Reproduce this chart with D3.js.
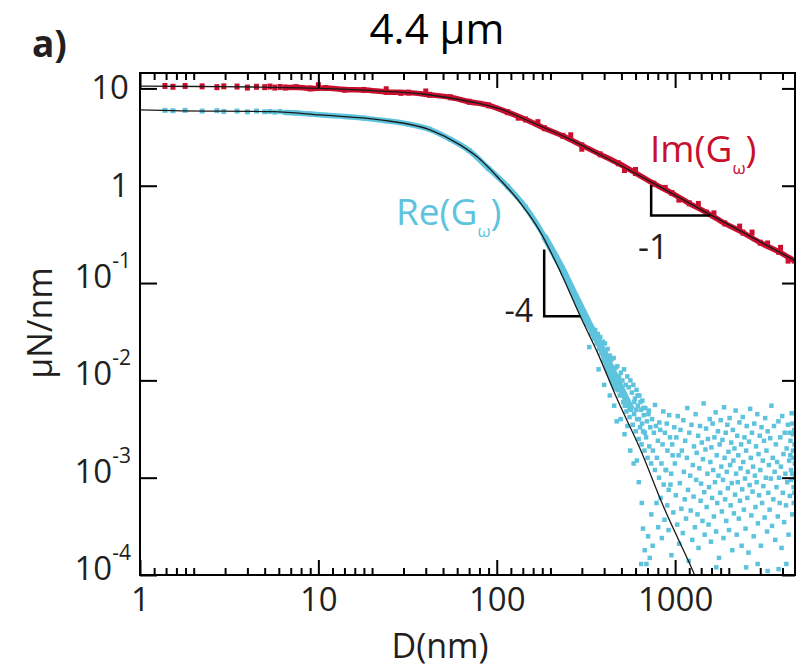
<!DOCTYPE html>
<html>
<head>
<meta charset="utf-8">
<script src="https://cdn.jsdelivr.net/npm/d3@7"></script>
<style>
  body { margin: 0; background: #fff; }
  svg text { font-family: "Open Sans", "DejaVu Sans", sans-serif; fill: #231f20; }
</style>
</head>
<body>
<div id="chart"></div>
<script>
// D (nm) sample points shared by both measured series
const dataD = [1.38, 1.53, 1.79, 2.23, 2.7, 2.95, 3.5, 4.0, 4.5, 5.0, 5.35, 5.7, 6.1, 6.5, 7.5, 9, 11, 14, 18, 24, 32, 42, 55, 70, 90, 115, 145, 185, 235, 300, 380, 480, 600, 760, 960, 1200, 1500, 1900, 2400, 3000, 3800, 4650];
// Im(G) measured, µN/nm
const imData = [10.6, 10.4, 10.6, 10.5, 10.3, 10.5, 10.45, 10.2, 10.4, 10.3, 10.45, 10.2, 10.35, 10.2, 10.3, 10.0, 10.1, 9.7, 9.65, 9.2, 9.05, 8.6, 8.1, 7.3, 6.7, 5.7, 4.8, 3.9, 3.25, 2.6, 2.1, 1.7, 1.35, 1.05, 0.84, 0.66, 0.53, 0.41, 0.33, 0.26, 0.21, 0.17];
// Re(G) measured, up to 480 nm (beyond that see reBand / reNoise)
const reData = [5.95, 5.9, 5.95, 5.85, 5.9, 5.8, 5.85, 5.75, 5.85, 5.75, 5.8, 5.7, 5.8, 5.65, 5.6, 5.45, 5.3, 5.15, 4.95, 4.65, 4.3, 3.8, 3.0, 2.3, 1.5, 0.98, 0.6, 0.3, 0.13, 0.05, 0.022, 0.008];
// centre of the dense Re band in the steep part
const reBandD = [185, 235, 270, 300, 340, 380, 430, 480, 530, 570];
const reBandV = [0.3, 0.135, 0.08, 0.054, 0.034, 0.023, 0.0145, 0.0095, 0.0065, 0.005];

// stray Im points (vertical jitter marks)
const imJitter = [[10, 10.8], [24, 9.8], [29, 9.0], [40, 9.3], [132, 5.0], [170, 4.5], [260, 3.3], [300, 2.4], [520, 1.45], [600, 1.45], [880, 0.95], [1050, 0.72], [1350, 0.65], [1650, 0.52], [2300, 0.38], [2700, 0.33], [3300, 0.255], [3900, 0.23], [4300, 0.17]];

// Re points in the steep part, [D, value in 1e-3 µN/nm]
const reBand = [
  [250,105],[262,88],[270,75],[282,66],[292,55],
  [300,52],[305,44],[312,46],[318,38],[324,41],[335,36],[338,30],[344,34],[350,27],[356,33],[363,24],[368,30],[375,21],[380,28],[386,19],[393,25],[398,16],[404,24],[408,19],[415,15],[418,21],[425,13],[430,18],[436,12],[441,16.5],[447,11],[452,17],[458,9.5],[463,13.5],[468,8.5],[474,14],[479,8],[485,11],[489,7],[496,12],
  [500,7.5],[506,10],[511,6],[517,13],[522,5.5],[528,9],[533,4.8],[539,11],[544,6],[549,8.5],[555,4.2],[561,10],[566,5],[572,7.5],[578,3.5],[583,9],[589,4.5],[595,6.5],[601,3.0],[607,8],[612,4],[618,5.5],[624,2.5],[630,7],[636,3.3],[642,5],[648,2.2],[655,6.2],[661,3],[667,4.4],[673,1.9],[680,5.2],[687,2.6],[694,3.8],[700,1.6],[708,4.5],[716,2.1],[725,3.3],[733,1.4],[742,4],[750,1.9],[760,2.9],[770,1.2],[780,3.4],[790,1.6],[800,2.4],[812,1.0],[825,3.1],[838,1.4],[850,2.2],[862,0.85],[876,2.9],[890,1.2],[905,1.9],[920,0.75],[935,2.6],[950,1.1],[968,1.7],
  [330,22],[372,13],[400,9],[430,7],[455,5.5],[470,3.8],[495,4],[520,2.8],[540,3.4],[560,1.9],[585,1.4],[610,1.5],[625,0.9],[650,0.55],[660,0.3],[675,0.18],[690,0.13],[705,0.25],[720,0.15],[645,0.13],
  [590,6],[604,5],[615,7],[627,4],[639,6],[652,3.6],[664,5.2],[676,2.9]
];

// Re noise floor at large D, [D, value in 1e-3 µN/nm]
const reNoise = [
  [712,4.9],[735,0.42],[748,0.2],[771,5.6],[786,0.55],[803,0.31],[815,3.7],[829,0.62],[842,0.24],[858,4.8],[871,0.37],[884,1.2],[897,3.6],[903,0.52],[918,0.29],[926,4.4],[941,0.85],[953,0.16],[962,2.2],[977,0.44],[989,3.3],[996,1.4],[1008,0.66],[1015,2.6],[1027,0.33],[1034,4.3],[1046,1.7],[1052,0.21],[1063,0.88],[1071,3.1],[1083,0.48],[1090,1.9],[1104,0.27],[1112,3.9],[1118,1.15],[1131,0.6],[1138,2.4],[1150,0.38],[1163,1.6],[1170,5.2],[1181,0.75],[1192,0.14],[1200,2.9],[1214,1.05],[1222,0.46],[1235,3.5],[1247,0.23],[1256,1.35],[1268,0.64],[1275,2.1],[1290,0.31],[1302,4.5],[1311,0.95],[1320,1.8],[1334,0.42],[1345,2.7],[1352,0.19],[1366,1.25],[1378,3.4],[1389,0.58],[1397,0.87],[1410,2.3],[1423,0.36],[1431,1.55],[1444,5.8],[1456,0.71],[1463,0.26],[1478,1.95],[1490,3.2],[1501,0.5],[1517,1.1],[1526,2.5],[1539,0.33],[1548,0.8],[1562,4.0],[1575,1.45],[1588,0.22],[1596,2.05],[1611,0.62],[1623,3.6],[1634,1.2],[1648,0.4],[1660,2.6],[1672,0.9],[1686,4.7],[1697,0.28],[1710,1.7],[1722,0.55],[1737,3.0],[1749,1.05],[1761,0.15],[1776,2.2],[1788,0.7],[1800,3.9],[1815,1.3],[1827,0.45],[1841,2.45],[1855,0.95],[1866,0.24],[1880,5.3],[1893,1.6],[1907,0.6],[1920,2.9],[1934,0.36],[1946,1.15],[1961,3.5],[1975,0.78],[1990,1.85],[2004,0.29],[2019,4.1],[2033,1.35],[2047,0.52],[2062,2.3],[2076,0.88],[2090,0.18],[2105,3.1],[2120,1.5],[2134,0.43],[2150,2.0],[2166,0.67],[2181,4.9],[2196,1.1],[2212,0.26],[2228,2.7],[2243,0.9],[2259,1.7],[2275,0.38],[2292,3.7],[2308,0.58],[2325,1.25],[2342,2.2],[2358,0.2],[2376,0.76],[2393,4.2],[2410,1.45],[2428,0.47],[2446,2.6],[2463,0.98],[2481,0.3],[2500,1.9],[2518,3.4],[2537,0.62],[2556,1.15],[2575,0.17],[2594,2.35],[2614,0.84],[2633,5.1],[2653,1.6],[2673,0.41],[2694,2.9],[2714,0.72],[2735,1.3],[2756,0.25],[2777,3.6],[2799,1.05],[2820,0.5],[2842,2.1],[2864,0.9],[2887,4.5],[2909,0.34],[2932,1.75],[2955,0.66],[2978,2.7],[3002,1.2],[3025,0.2],[3049,3.3],[3073,0.55],[3098,1.5],[3122,0.82],[3147,2.4],[3172,0.39],[3198,4.1],[3223,1.0],[3249,1.9],[3275,0.28],[3302,3.0],[3328,0.7],[3355,1.35],[3383,0.47],[3410,2.55],[3438,0.98],[3466,5.5],[3494,0.32],[3523,1.6],[3552,0.6],[3581,3.4],[3610,1.15],[3640,0.23],[3670,2.2],[3700,0.8],[3730,1.45],[3760,0.4],[3791,3.8],[3822,1.0],[3853,0.55],[3885,2.6],[3917,1.3],[3949,0.19],[3981,4.3],[4014,0.7],[4047,1.75],[4080,0.35],[4113,2.9],[4147,1.1],[4181,0.52],[4215,2.0],[4250,0.9],[4285,3.5],[4320,0.26],[4355,1.5],[4391,0.65],[4427,2.4],[4463,1.2],[4500,4.6],[4537,0.42],[4574,1.9],[4612,0.8],[4650,3.1],[4688,1.4],
  [4580,2.8],[4620,0.55],[4670,2.2],[4700,1.0],[4540,3.6],[4470,0.95],[4600,1.6],[4660,0.7],[4420,1.7],[4380,2.9],[4530,1.1],
  [2500,0.12],[3300,0.11],[4200,0.13],[3800,0.115],[1700,0.12],[2900,0.13]
];

// fitted curves
const imFitD = [1, 2.17, 4.71, 10.2, 20.3, 38.6, 54.8, 79.7, 104.5, 160, 248, 380, 698, 1573, 4700];
const imFitV = [10.58, 10.46, 10.33, 10.02, 9.47, 8.76, 7.97, 7.0, 6.15, 4.42, 3.1, 2.08, 1.15, 0.504, 0.17];
const reFitD = [1, 1.53, 5.57, 10.2, 22.2, 42.3, 62.3, 77.6, 104.5, 135.3, 175, 227, 294, 366, 473, 637, 857, 1264, 1400];
const reFitV = [6.01, 5.91, 5.77, 5.34, 4.75, 3.75, 2.63, 1.98, 1.15, 0.67, 0.338, 0.1315, 0.0455, 0.0195, 0.00642, 0.00197, 5.14e-4, 1.08e-4, 7e-5];

// slope triangles
const slope4D = [184.5, 184.5, 294], slope4V = [0.221, 0.0455, 0.0455];
const slope1D = [734, 734, 1573], slope1V = [1.02, 0.493, 0.493];

const xMajor = [1, 10, 100, 1000];
const xMinorMult = [1.2, 1.4, 1.6, 1.8, 2, 3, 4, 5, 6, 7, 8, 9];
const yMajor = [10, 1, 0.1, 0.01, 0.001, 0.0001];
const yLabels = [['10', ''], ['1', ''], ['10', '-1'], ['10', '-2'], ['10', '-3'], ['10', '-4']];

const W = 802, H = 669;
const L = 140, R = 795, T = 73, B = 575;
const red = '#c8102e', cyan = '#5ec4de';

const svg = d3.select('#chart').append('svg').attr('width', W).attr('height', H);

const x = d3.scaleLog().domain([1, 4700]).range([L, R]);
const y = d3.scaleLog().domain([1e-4, 14.4]).range([B, T]);

svg.append('clipPath').attr('id', 'clip')
  .append('rect').attr('x', L).attr('y', T).attr('width', R - L).attr('height', B - T);
const plot = svg.append('g').attr('clip-path', 'url(#clip)');

const line = d3.line().x((d) => x(d[0])).y((d) => y(d[1])).curve(d3.curveMonotoneX);
const zip = (a, b) => a.map((d, i) => [d, b[i]]);

// Im(G) band + points
plot.append('path').attr('d', line(zip(dataD.slice(13), imData.slice(13))))
  .attr('fill', 'none').attr('stroke', red).attr('stroke-width', 5.5);
plot.selectAll('.imPt').data(zip(dataD, imData).concat(imJitter)).enter().append('rect')
  .attr('x', (d) => x(d[0]) - 2.5).attr('y', (d) => y(d[1]) - 3)
  .attr('width', 5).attr('height', 6).attr('fill', red);

// Re(G) band + points
plot.append('path').attr('d', line(zip(dataD.slice(13), reData.slice(13))))
  .attr('fill', 'none').attr('stroke', cyan).attr('stroke-width', 5.5);
plot.append('path').attr('d', line(zip(reBandD, reBandV)))
  .attr('fill', 'none').attr('stroke', cyan).attr('stroke-width', 7);
plot.selectAll('.rePt').data(zip(dataD, reData)).enter().append('rect')
  .attr('x', (d) => x(d[0]) - 2.5).attr('y', (d) => y(d[1]) - 2.5)
  .attr('width', 5).attr('height', 5).attr('fill', cyan);
plot.selectAll('.reScatter').data(reBand.concat(reNoise)).enter().append('rect')
  .attr('x', (d) => x(d[0]) - 2.2).attr('y', (d) => y(d[1] * 1e-3) - 2.2)
  .attr('width', 4.5).attr('height', 4.5).attr('fill', cyan);

// fits
plot.append('path').attr('d', line(zip(imFitD, imFitV)))
  .attr('fill', 'none').attr('stroke', '#1a1a1a').attr('stroke-width', 1.3);
plot.append('path').attr('d', line(zip(reFitD, reFitV)))
  .attr('fill', 'none').attr('stroke', '#1a1a1a').attr('stroke-width', 1.3);

// slope triangles
const tri = d3.line().x((d) => x(d[0])).y((d) => y(d[1]));
svg.append('path').attr('d', tri(zip(slope4D, slope4V)))
  .attr('fill', 'none').attr('stroke', '#000').attr('stroke-width', 2.5);
svg.append('path').attr('d', tri(zip(slope1D, slope1V)))
  .attr('fill', 'none').attr('stroke', '#000').attr('stroke-width', 2.5);
svg.append('text').attr('x', 533).attr('y', 322).attr('text-anchor', 'end')
  .attr('font-size', 32).text('-4');
svg.append('text').attr('x', 638).attr('y', 259)
  .attr('font-size', 34).text('-1');

// series labels
const imLab = svg.append('text').attr('x', 650).attr('y', 162).attr('font-size', 37).style('fill', red);
imLab.append('tspan').text('Im(G');
imLab.append('tspan').attr('font-size', 17).attr('dy', 12).text('ω');
imLab.append('tspan').attr('dy', -12).text(')');
const reLab = svg.append('text').attr('x', 396).attr('y', 225).attr('font-size', 37).style('fill', cyan);
reLab.append('tspan').text('Re(G');
reLab.append('tspan').attr('font-size', 17).attr('dy', 12).text('ω');
reLab.append('tspan').attr('dy', -12).text(')');

// axes
const xMinor = [];
xMajor.forEach((dec) => xMinorMult.forEach((m) => { if (dec * m < 4700) xMinor.push(dec * m); }));

svg.append('g').attr('transform', `translate(0,${B})`)
  .call(d3.axisBottom(x).tickValues(xMinor).tickSize(-7).tickFormat(''));
svg.append('g').attr('transform', `translate(0,${B})`)
  .call(d3.axisBottom(x).tickValues(xMajor).tickSize(-15).tickPadding(13).tickFormat(d3.format('d')))
  .selectAll('text').attr('font-size', 33).style('font-family', '"Open Sans", sans-serif').attr('fill', '#231f20');
svg.append('g').attr('transform', `translate(0,${T})`)
  .call(d3.axisTop(x).tickValues(xMinor).tickSize(-7).tickFormat(''));
svg.append('g').attr('transform', `translate(0,${T})`)
  .call(d3.axisTop(x).tickValues(xMajor).tickSize(-15).tickFormat(''));
svg.append('g').attr('transform', `translate(${L},0)`)
  .call(d3.axisLeft(y).tickValues(yMajor).tickSize(-17).tickFormat(''));
svg.append('g').attr('transform', `translate(${R},0)`)
  .call(d3.axisRight(y).tickValues(yMajor).tickSize(-13).tickFormat(''));
svg.selectAll('.domain').remove();
svg.selectAll('.tick line').attr('stroke', '#000').attr('stroke-width', 2);
svg.append('rect').attr('x', L).attr('y', T).attr('width', R - L).attr('height', B - T)
  .attr('fill', 'none').attr('stroke', '#000').attr('stroke-width', 2);

// y tick labels
yMajor.forEach((v, i) => {
  const [base, exp] = yLabels[i];
  const t = svg.append('text').attr('text-anchor', 'end').attr('font-size', 33);
  if (!exp) {
    t.attr('x', 129).attr('y', y(v) + 11).text(base);
  } else {
    t.attr('x', 131).attr('y', y(v) + 5);
    t.append('tspan').text(base);
    t.append('tspan').attr('font-size', 21).attr('dy', -20).text(exp);
  }
});

// titles
svg.append('text').attr('x', 437).attr('y', 44).attr('text-anchor', 'middle')
  .attr('font-size', 42).style('fill', '#000').text('4.4 μm');
svg.append('text').attr('x', 32).attr('y', 57).attr('font-size', 37)
  .attr('font-weight', 'bold').text('a)');
svg.append('text').attr('x', 440).attr('y', 658).attr('text-anchor', 'middle')
  .attr('font-size', 34).text('D(nm)');
svg.append('text').attr('transform', 'translate(52,323) rotate(-90)').attr('text-anchor', 'middle')
  .attr('font-size', 34).text('μN/nm');
</script>
</body>
</html>
